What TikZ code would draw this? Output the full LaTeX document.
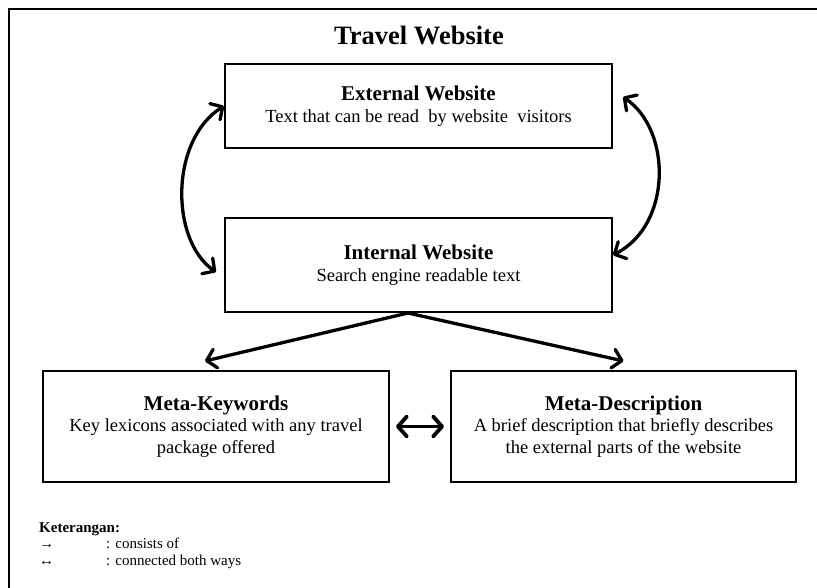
\documentclass[tikz,border=0pt]{standalone}
\usepackage{fontspec}
\setmainfont{Liberation Serif}
\usetikzlibrary{arrows.meta}
\newcommand\hd[1]{{\fontsize{21}{22}\selectfont\bfseries #1}}
\begin{document}
\begin{tikzpicture}[x=1pt,y=-1pt,
  box/.style={draw, line width=2pt, align=center, inner sep=0pt,
    font=\fontsize{18.5}{21.5}\selectfont},
  barb/.tip={Straight Barb[length=9pt,width=19pt,round]},
  bigbarb/.tip={Straight Barb[length=9pt,width=20pt,round]},
  twoway/.style={line width=3.3pt, barb-barb},
  oneway/.style={line width=3.3pt, -barb},
  pair/.style={line width=3.8pt, bigbarb-bigbarb},
  legend/.style={inner sep=0pt, anchor=base west, font=\fontsize{15}{17}\selectfont}]
\useasboundingbox (0,0) rectangle (817,588);

% frame lines along the top and left edges
\draw[line width=2.5pt] (817,9) -- (9,9) -- (9,588);

% heading
\node[inner sep=0pt, anchor=base, font=\fontsize{26.5}{30}\selectfont\bfseries]
  (title) at (419,45) {Travel Website};

% boxes
\node[box, minimum width=387pt, minimum height=84pt] (ext) at (418.5,106)
  {\hd{External Website}\\Text that can be read\ \ by website\ \ visitors};
\node[box, minimum width=387pt, minimum height=94pt] (int) at (418.5,265)
  {\hd{Internal Website}\\Search engine readable text};
\node[box, minimum width=346pt, minimum height=111pt] (mk) at (216,426.5)
  {\hd{Meta-Keywords}\\Key lexicons associated with any travel\\package offered};
\node[box, minimum width=345pt, minimum height=111pt] (md) at (623.5,426.5)
  {\hd{Meta-Description}\\A brief description that briefly describes\\the external parts of the website};

% links between the two website layers
\draw[twoway] (ext.west) .. controls +(-54,34) and +(-46,-32) .. ([shift={(-8pt,-7pt)}]int.west);
\draw[twoway] ([shift={(10pt,9pt)}]ext.east) .. controls +(49,33) and +(59,-30) .. ([yshift=10pt]int.east);

% internal website consists of the meta parts
\draw[oneway] ([xshift=-10.5pt]int.south) -- ([shift={(-11pt,9pt)}]mk.north);
\draw[oneway] ([xshift=-10.5pt]int.south) -- ([yshift=9pt]md.north);

% meta parts linked both ways
\draw[pair] ([xshift=6pt]mk.east) -- ([xshift=-6pt]md.west);

% legend
\node[legend, font=\fontsize{15}{17}\selectfont\bfseries] (key) at (39,532) {Keterangan:};
\node[legend] (sym1) at (39,548.5) {→};
\node[legend] (txt1) at (106,548.5) {: consists of};
\node[legend] (sym2) at (39,565) {↔};
\node[legend] (txt2) at (106,565) {: connected both ways};
\end{tikzpicture}
\end{document}
